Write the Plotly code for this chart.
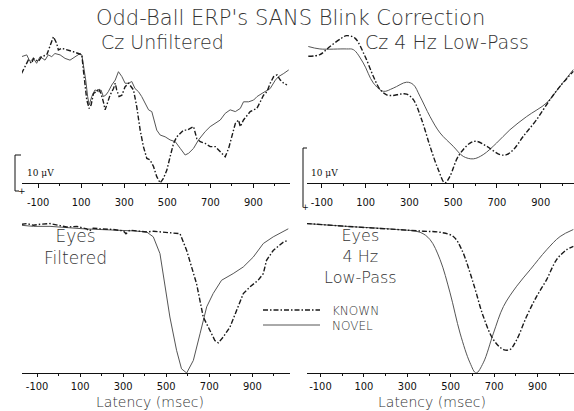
import plotly.graph_objects as go

# ---------------- data (latency in ms, amplitude plotted upward) ----------------
# Cz unfiltered
cz_raw_ms_known = [-177,-161,-146,-130,-122,-99,-84,-60,-45,-29,-14,-6,9,40,64,87,103,110,118,126,137,146,157,172,180,192,203,211,219,234,250,258,265,276,289,304,320,327,343,358,374,389,405,420,436,451,467,482,498,513,529,544,560,575,591,606,622,637,653,676,699,723,746,769,785,800,816,831,839,854,870,885,901,916,932,947,963,978,994,1010,1025,1041,1056]
cz_raw_known = [31.3,33.2,35.1,34.2,35.6,34.7,36.1,36.6,39.0,41.8,39.9,38.0,38.5,38.0,37.5,37.0,36.6,32.3,27.5,23.7,21.3,22.3,25.6,26.1,27.0,25.6,23.2,20.9,22.3,25.1,27.0,28.5,26.6,24.7,25.1,27.5,28.5,28.0,26.6,21.8,15.1,10.4,7.0,6.6,4.7,1.8,0.0,1.3,3.7,7.5,11.3,13.2,14.2,15.1,15.1,15.6,16.1,12.7,11.8,11.3,10.4,10.4,9.0,7.5,9.9,13.2,17.0,18.0,16.1,18.0,19.4,20.4,20.9,21.3,23.2,25.1,26.1,28.5,30.4,30.9,29.4,28.5,28.0]
cz_raw_ms_novel = [-177,-153,-138,-122,-107,-91,-68,-53,-37,-22,2,25,48,71,95,103,110,121,130,137,149,164,180,192,203,214,226,242,258,273,289,304,320,335,350,366,381,397,413,428,444,451,467,490,513,537,560,583,599,622,645,676,699,723,746,769,792,816,839,854,878,901,917,940,963,978,1002,1017,1041,1064]
cz_raw_novel = [36.1,36.6,34.7,35.6,34.2,36.1,35.1,36.6,36.1,37.0,36.6,35.6,35.1,36.1,37.0,36.6,34.2,29.4,24.7,22.3,24.7,26.6,26.1,26.6,24.7,25.1,26.1,28.0,29.4,31.8,30.4,28.5,28.5,29.0,27.0,26.1,24.7,22.8,20.9,20.4,17.0,15.1,13.7,13.2,12.3,11.8,9.9,8.0,8.5,9.9,12.3,14.7,16.1,17.0,18.0,19.9,20.9,20.4,21.3,23.2,23.2,23.7,24.7,25.6,26.6,27.0,29.4,30.4,31.3,32.3]

# Cz 4 Hz low-pass
cz_lp_ms_known = [-162,-109,-63,-10,13,51,97,135,166,196,226,257,287,318,356,394,432,462,485,523,577,607,653,714,744,775,820,881,942,988,1049]
cz_lp_known = [36.2,36.7,39.0,41.4,42.1,41.4,36.2,30.5,26.7,25.2,25.0,25.4,25.4,23.8,18.1,10.5,3.8,0.0,1.9,7.6,11.4,11.9,10.5,8.1,8.1,9.5,13.3,18.1,23.8,27.6,31.9]
cz_lp_ms_novel = [-162,-109,13,44,89,135,181,226,287,318,348,394,440,500,546,592,637,698,759,836,927,988,1049]
cz_lp_novel = [39.0,38.3,38.3,38.1,34.3,28.6,26.2,27.1,28.8,28.1,24.8,19.0,14.3,10.5,7.6,6.9,8.1,11.4,15.2,19.0,22.9,27.6,32.4]

# Eyes filtered
eye_f_ms_known = [-172,-148,-117,-86,-40,6,37,84,130,143,161,192,254,301,313,331,378,409,440,502,564,595,618,641,672,695,726,742,765,796,827,858,889,927,951,966,997,1044,1067]
eye_f_known = [42.5,42.7,42.2,42.5,42.7,42.2,41.7,41.9,41.2,40.6,41.4,41.2,41.0,40.6,39.8,40.8,40.5,40.3,40.5,40.1,39.8,35.0,30.3,25.5,16.0,13.1,9.3,8.6,10.3,13.1,17.9,22.7,24.6,26.5,28.4,32.2,35.0,37.4,37.9]
eye_f_ms_novel = [-172,-117,-40,37,115,192,301,347,409,440,471,494,517,548,571,595,626,657,688,718,757,811,858,904,951,997,1044,1067]
eye_f_novel = [42.2,41.9,41.9,41.5,41.2,41.0,40.8,40.6,40.3,38.9,34.1,25.5,16.0,6.5,1.2,0.0,3.6,11.2,18.9,22.7,26.5,28.4,30.3,33.1,37.0,38.9,40.3,41.2]

# Eyes 4 Hz low-pass
eye_lp_ms_known = [-164,21,251,374,451,512,551,604,650,697,743,773,804,850,896,942,988,1034,1065]
eye_lp_known = [42.7,41.9,41.0,40.5,40.2,39.0,35.2,25.7,16.2,9.5,6.7,6.7,9.5,16.2,21.9,26.7,32.4,35.2,36.2]
eye_lp_ms_novel = [-164,21,251,359,405,451,497,543,589,617,650,697,743,804,866,942,1004,1065]
eye_lp_novel = [42.7,41.9,41.0,40.2,38.1,32.4,22.9,11.4,2.9,0.0,2.9,11.4,19.0,24.8,29.5,35.2,39.0,41.0]

tick_ms = [-100, 100, 300, 500, 700, 900]
tick_labels = ["-100", "100", "300", "500", "700", "900"]

W, H = 574, 411
KNOWN_STYLE = dict(color="#1a1a1a", width=1.4, dash="5px,2px,1.5px,2px")
NOVEL_STYLE = dict(color="#555555", width=1.0)

fig = go.Figure()

panels = [
    ("", cz_raw_ms_known, cz_raw_known, cz_raw_ms_novel, cz_raw_novel, "linear", (22, 290), 183, (-175, 1070), 5, 4),
    ("2", cz_lp_ms_known, cz_lp_known, cz_lp_ms_novel, cz_lp_novel, "spline", (307, 574), 183, (-168, 1052), 5, 4),
    ("3", eye_f_ms_known, eye_f_known, eye_f_ms_novel, eye_f_novel, "linear", (22, 290), 373, (-170, 1075), 0, 3),
    ("4", eye_lp_ms_known, eye_lp_known, eye_lp_ms_novel, eye_lp_novel, "spline", (307, 574), 373, (-162, 1068), 0, 3),
]

AMP_PX = 3.5   # pixels per amplitude unit
Y_TOP = 45.0

layout_axes = {}
for suf, mk, k, mn, n, shp, (x0, x1), base, xr, stand, tlen in panels:
    xa, ya = "x" + suf, "y" + suf
    fig.add_trace(go.Scatter(x=mn, y=n, mode="lines", line=dict(shape=shp, **NOVEL_STYLE),
                             xaxis=xa, yaxis=ya, name="NOVEL", showlegend=False))
    fig.add_trace(go.Scatter(x=mk, y=k, mode="lines", line=dict(shape=shp, **KNOWN_STYLE),
                             xaxis=xa, yaxis=ya, name="KNOWN", showlegend=False))
    top_px = base - Y_TOP * AMP_PX
    layout_axes["xaxis" + suf] = dict(
        domain=[x0 / W, x1 / W], range=list(xr), anchor=ya,
        showgrid=False, zeroline=False, showline=True, linecolor="#111", linewidth=1.2,
        tickmode="array", tickvals=tick_ms, ticktext=tick_labels, tickangle=0,
        ticks="outside", ticklen=tlen, tickwidth=1, tickcolor="#111", ticklabelstandoff=stand,
        minor=dict(ticks="outside", tick0=0, dtick=100, ticklen=2, tickwidth=1, tickcolor="#111", showgrid=False),
        tickfont=dict(family="DejaVu Sans Condensed, Liberation Sans Narrow, sans-serif", size=11, color="#111"),
    )
    layout_axes["yaxis" + suf] = dict(
        domain=[1 - base / H, 1 - top_px / H], range=[0, Y_TOP], anchor=xa,
        visible=False, showgrid=False, zeroline=False,
    )

fig.update_layout(**layout_axes)

TFONT = "DejaVu Sans Light, DejaVu Sans, sans-serif"
ann = []
def txt(s, x, y, size, color="#333", font=TFONT, xanchor="center", yanchor="middle", pad=1):
    ann.append(dict(text=s, x=x / W, y=1 - y / H, xref="paper", yref="paper",
                    xanchor=xanchor, yanchor=yanchor, showarrow=False, borderpad=pad,
                    font=dict(family=font, size=size, color=color)))

txt("Odd-Ball ERP's SANS Blink Correction", 290, 18, 21)
txt("Cz Unfiltered", 162, 42, 19)
txt("Cz 4 Hz Low-Pass", 447, 42, 19)
txt("Eyes<br>Filtered", 75, 247, 17)
txt("Eyes<br>4 Hz<br>Low-Pass", 360, 256, 16)
txt("Latency (msec)", 150, 411, 14, yanchor="bottom", pad=0)
txt("Latency (msec)", 432, 411, 14, yanchor="bottom", pad=0)
txt("KNOWN", 330, 311, 12, xanchor="left")
txt("NOVEL", 330, 326, 12, xanchor="left")
txt("10 μV", 25, 173, 9, color="#111", font="DejaVu Serif, serif", xanchor="left")
txt("10 μV", 309, 173, 9, color="#111", font="DejaVu Serif, serif", xanchor="left")
txt("+", 22, 191, 9, color="#111", font="DejaVu Sans, sans-serif")
txt("+", 305, 207, 8, color="#111", font="DejaVu Sans, sans-serif")

shapes = []
def seg(x0, y0, x1, y1, **line):
    shapes.append(dict(type="line", xref="paper", yref="paper",
                       x0=x0 / W, x1=x1 / W, y0=1 - y0 / H, y1=1 - y1 / H,
                       line=line))
# calibration bars
seg(15, 155, 15, 191, color="#111", width=1)
seg(15, 155, 21, 155, color="#111", width=1)
seg(15, 191, 19, 191, color="#111", width=1)
seg(303, 148, 303, 207, color="#111", width=1)
seg(303, 148, 307, 148, color="#111", width=1)
# legend samples
seg(263, 310, 320, 310, **KNOWN_STYLE)
seg(263, 325, 320, 325, **NOVEL_STYLE)

fig.update_layout(
    width=W, height=H, autosize=False,
    margin=dict(l=0, r=0, t=0, b=0),
    paper_bgcolor="white", plot_bgcolor="white",
    annotations=ann, shapes=shapes, showlegend=False,
)

fig.write_html("out.html", config={"displayModeBar": False},
               post_script="document.body.style.margin='0px';document.body.style.padding='0px';")
